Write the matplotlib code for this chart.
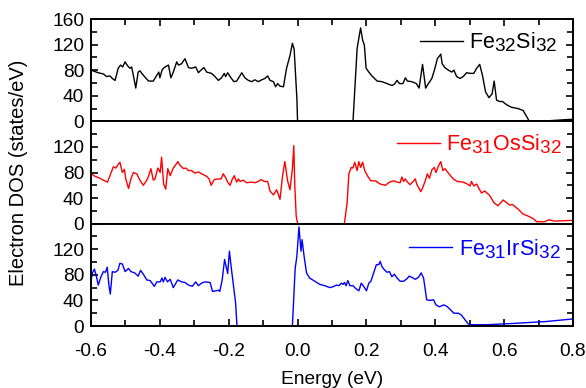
import matplotlib
matplotlib.use("Agg")
import matplotlib.pyplot as plt
from matplotlib.ticker import MultipleLocator, FixedLocator
from matplotlib import _mathtext

_mathtext.SHRINK_FACTOR = 0.88

plt.rcParams['font.family'] = ['Liberation Sans', 'DejaVu Sans']
plt.rcParams['mathtext.fontset'] = 'custom'
plt.rcParams['mathtext.rm'] = 'Liberation Sans'
plt.rcParams['mathtext.it'] = 'Liberation Sans'

# ---- Data ----
e_fesi = [-0.600, -0.579, -0.564, -0.555, -0.545, -0.538, -0.530, -0.521, -0.514, -0.508,
          -0.501, -0.494, -0.487, -0.482, -0.477, -0.470, -0.463, -0.458, -0.448, -0.433,
          -0.419, -0.409, -0.403, -0.400, -0.393, -0.385, -0.375, -0.368, -0.361, -0.351,
          -0.346, -0.337, -0.327, -0.317, -0.308, -0.296, -0.288, -0.279, -0.272, -0.264,
          -0.250, -0.240, -0.230, -0.221, -0.213, -0.209, -0.203, -0.196, -0.185, -0.177,
          -0.162, -0.153, -0.143, -0.133, -0.124, -0.114, -0.104, -0.095, -0.087, -0.080,
          -0.070, -0.064, -0.058, -0.051, -0.041, -0.032, -0.022, -0.015, -0.010, -0.002,
          0.000, 0.161, 0.173, 0.183, 0.189, 0.194, 0.199, 0.207, 0.216, 0.231,
          0.245, 0.260, 0.274, 0.281, 0.289, 0.296, 0.306, 0.313, 0.319, 0.332,
          0.345, 0.353, 0.363, 0.372, 0.380, 0.390, 0.399, 0.406, 0.416, 0.420,
          0.428, 0.438, 0.448, 0.454, 0.462, 0.472, 0.481, 0.491, 0.501, 0.512,
          0.520, 0.529, 0.537, 0.546, 0.556, 0.565, 0.571, 0.578, 0.587, 0.595,
          0.607, 0.621, 0.631, 0.640, 0.655, 0.666, 0.672, 0.732, 0.790, 0.800]
d_fesi = [80, 76, 74, 70, 71, 67, 64, 83, 88, 85,
          93, 87, 83, 85, 72, 52, 77, 79, 72, 63,
          63, 72, 77, 68, 81, 85, 88, 68, 77, 93,
          88, 90, 98, 84, 83, 85, 76, 81, 84, 77,
          75, 70, 64, 68, 75, 70, 76, 70, 62, 63,
          76, 68, 64, 62, 65, 62, 65, 67, 71, 64,
          62, 54, 59, 55, 54, 83, 103, 122, 113, 36,
          0, 0, 114, 146, 127, 119, 83, 77, 71, 63,
          62, 59, 56, 58, 64, 59, 59, 68, 63, 62,
          59, 52, 89, 52, 59, 67, 83, 98, 105, 90,
          84, 80, 77, 80, 70, 67, 70, 76, 75, 75,
          83, 89, 72, 46, 37, 43, 63, 33, 31, 31,
          26, 22, 21, 20, 17, 7, 1, 1, 3, 3]

e_os = [-0.600, -0.588, -0.574, -0.561, -0.552, -0.545, -0.535, -0.528, -0.523, -0.516,
        -0.509, -0.503, -0.499, -0.491, -0.484, -0.477, -0.467, -0.458, -0.448, -0.438,
        -0.433, -0.426, -0.419, -0.414, -0.406, -0.399, -0.395, -0.389, -0.383, -0.377,
        -0.370, -0.361, -0.354, -0.348, -0.341, -0.331, -0.324, -0.317, -0.308, -0.298,
        -0.288, -0.279, -0.264, -0.257, -0.251, -0.242, -0.230, -0.222, -0.216, -0.209,
        -0.203, -0.196, -0.190, -0.184, -0.177, -0.172, -0.167, -0.158, -0.148, -0.133,
        -0.124, -0.114, -0.106, -0.097, -0.087, -0.080, -0.070, -0.061, -0.056, -0.051,
        -0.044, -0.037, -0.029, -0.022, -0.015, -0.011, -0.008, -0.004, 0.000,
        0.136, 0.144, 0.149, 0.156, 0.161, 0.166, 0.173, 0.178, 0.183, 0.189,
        0.195, 0.204, 0.213, 0.226, 0.240, 0.255, 0.267, 0.279, 0.289, 0.298,
        0.303, 0.308, 0.313, 0.319, 0.327, 0.334, 0.342, 0.346, 0.351, 0.358,
        0.364, 0.371, 0.377, 0.383, 0.390, 0.397, 0.402, 0.409, 0.416, 0.422,
        0.428, 0.438, 0.452, 0.464, 0.481, 0.493, 0.501, 0.505, 0.512, 0.520,
        0.528, 0.534, 0.544, 0.558, 0.570, 0.582, 0.589, 0.597, 0.607, 0.616,
        0.624, 0.631, 0.640, 0.655, 0.669, 0.684, 0.695, 0.717, 0.730, 0.746,
        0.790, 0.800]
d_os = [78, 74, 71, 67, 65, 75, 89, 87, 91, 96,
        80, 85, 70, 55, 70, 80, 78, 68, 60, 68,
        74, 86, 68, 70, 87, 80, 104, 62, 54, 86,
        75, 87, 92, 97, 91, 86, 87, 83, 83, 79,
        81, 78, 74, 70, 60, 69, 70, 70, 78, 72,
        65, 60, 69, 75, 65, 70, 66, 68, 64, 65,
        64, 66, 69, 66, 66, 51, 45, 53, 46, 38,
        73, 97, 67, 53, 86, 122, 59, 12, 0,
        0, 33, 78, 88, 87, 96, 83, 97, 88, 96,
        83, 74, 67, 67, 62, 60, 65, 67, 65, 64,
        73, 66, 70, 65, 61, 65, 70, 62, 57, 50,
        57, 67, 78, 71, 84, 88, 80, 90, 97, 83,
        86, 79, 70, 66, 65, 62, 59, 66, 59, 62,
        54, 48, 51, 44, 33, 28, 32, 37, 33, 29,
        30, 27, 23, 15, 12, 8, 3, 3, 6, 4,
        5, 5]

e_ir = [-0.600, -0.596, -0.590, -0.584, -0.579, -0.571, -0.564, -0.558, -0.553, -0.548,
        -0.544, -0.538, -0.530, -0.522, -0.516, -0.509, -0.501, -0.491, -0.484, -0.473,
        -0.463, -0.456, -0.448, -0.438, -0.428, -0.416, -0.409, -0.399, -0.394, -0.390,
        -0.385, -0.378, -0.370, -0.361, -0.348, -0.337, -0.327, -0.317, -0.306, -0.296,
        -0.288, -0.279, -0.269, -0.254, -0.247, -0.238, -0.230, -0.226, -0.219, -0.212,
        -0.203, -0.198, -0.193, -0.180, -0.176,
        -0.015, -0.007, -0.002, 0.004, 0.010, 0.013, 0.019, 0.026, 0.035, 0.050,
        0.065, 0.079, 0.094, 0.106, 0.113, 0.120, 0.127, 0.132, 0.136, 0.141,
        0.146, 0.152, 0.161, 0.168, 0.178, 0.185, 0.192, 0.200, 0.207, 0.213,
        0.221, 0.229, 0.236, 0.240, 0.245, 0.252, 0.260, 0.267, 0.274, 0.281,
        0.289, 0.298, 0.308, 0.318, 0.324, 0.332, 0.342, 0.351, 0.359, 0.366,
        0.375, 0.385, 0.395, 0.402, 0.412, 0.424, 0.433, 0.443, 0.454, 0.467,
        0.476, 0.486, 0.496, 0.505, 0.549, 0.626, 0.722, 0.799]
d_ir = [70, 83, 89, 77, 64, 77, 85, 84, 92, 64,
        50, 85, 84, 87, 98, 97, 85, 90, 85, 83,
        78, 87, 81, 72, 71, 62, 69, 69, 75, 69,
        76, 69, 73, 60, 72, 69, 68, 64, 62, 69,
        63, 67, 69, 68, 54, 55, 56, 54, 72, 104,
        82, 117, 93, 36, 0,
        0, 90, 109, 155, 117, 135, 109, 83, 75, 70,
        65, 63, 60, 62, 64, 63, 67, 65, 68, 63,
        71, 63, 63, 59, 55, 67, 62, 55, 67, 70,
        83, 96, 96, 101, 93, 88, 84, 85, 77, 81,
        75, 70, 70, 74, 78, 76, 73, 76, 83, 75,
        41, 40, 41, 33, 30, 33, 31, 26, 20, 20,
        17, 10, 3, 2, 2, 4, 7, 11]

labels = [r'Fe$_{32}$Si$_{32}$', r'Fe$_{31}$OsSi$_{32}$', r'Fe$_{31}$IrSi$_{32}$']
colors = ['black', '#ff0000', '#0000ff']
series = [(e_fesi, d_fesi), (e_os, d_os), (e_ir, d_ir)]
legend_anchor = [(0.968, 0.775), (0.978, 0.775), (0.974, 0.755)]
xtick_vals = [-0.6, -0.4, -0.2, 0.0, 0.2, 0.4, 0.6, 0.8]
xtick_labels = ['-0.6', '-0.4', '-0.2', '0.0', '0.2', '0.4', '0.6', '0.8']

fig = plt.figure(figsize=(5.86, 3.88), dpi=100)
axes = fig.subplots(3, 1, sharex=True)
fig.subplots_adjust(left=91/586, right=573/586, top=1-19/388, bottom=1-326/388, hspace=0)

fs = 13.8
lfs = 15.5
for i, ax in enumerate(axes):
    e, d = series[i]
    ax.plot(e, d, color=colors[i], lw=1.0, label=labels[i])
    ax.set_xlim(-0.6, 0.8)
    ax.set_ylim(0, 160)
    if i == 0:
        ax.yaxis.set_major_locator(FixedLocator([0, 40, 80, 120, 160]))
    else:
        ax.yaxis.set_major_locator(FixedLocator([0, 40, 80, 120]))
    ax.yaxis.set_minor_locator(FixedLocator([20, 60, 100, 140, 160]))
    ax.xaxis.set_major_locator(MultipleLocator(0.2))
    ax.xaxis.set_minor_locator(MultipleLocator(0.1))
    ax.tick_params(axis='both', which='both', direction='in', width=1.2,
                   labelsize=fs, right=True,
                   top=(i == 0), bottom=(i == 2))
    ax.tick_params(axis='both', which='major', length=5)
    ax.tick_params(axis='both', which='minor', length=4)
    ax.tick_params(axis='x', which='major', pad=12)
    ax.tick_params(axis='y', which='major', pad=5)
    for s in ax.spines.values():
        s.set_linewidth(1.4)
    ax.legend(loc='center right', bbox_to_anchor=legend_anchor[i], frameon=False,
              fontsize=lfs, handlelength=2.0, handletextpad=0.3, borderpad=0,
              borderaxespad=0, labelcolor='linecolor')

axes[2].set_xticks(xtick_vals)
axes[2].set_xticklabels(xtick_labels)
axes[2].set_xlabel('Energy (eV)', fontsize=fs, labelpad=8)
fig.text(0.031, (1 - 19/388 + 1 - 326/388) / 2, 'Electron DOS (states/eV)', rotation=90,
         ha='center', va='center', fontsize=14.5)

fig.savefig('out.png', dpi=100)
